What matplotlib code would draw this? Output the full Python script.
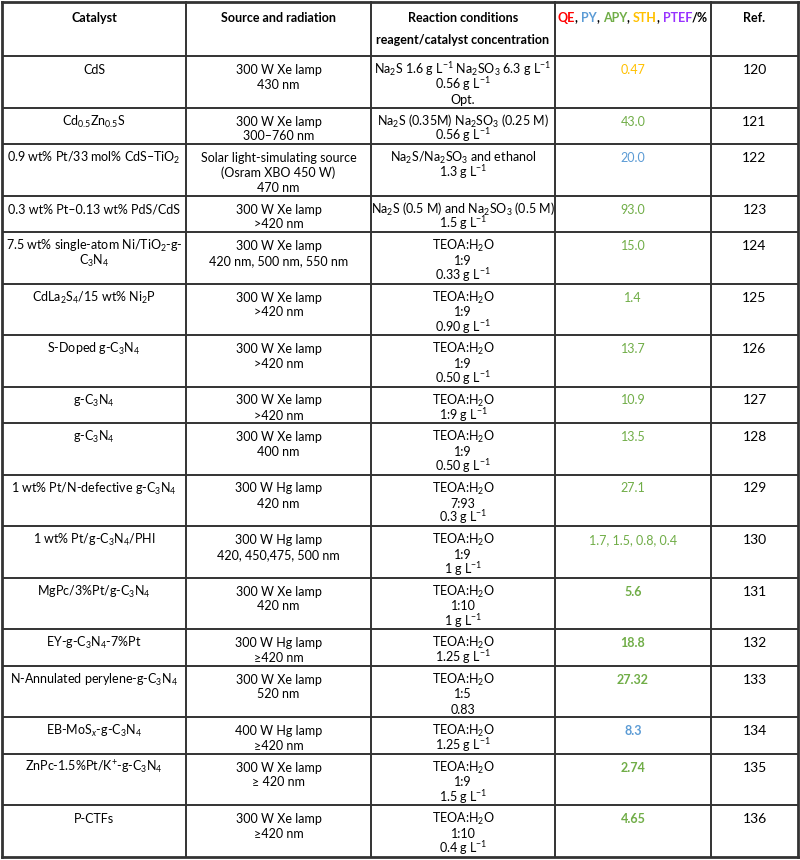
import matplotlib
matplotlib.use('Agg')
import matplotlib.pyplot as plt

plt.rcParams['font.family'] = ['Lato', 'DejaVu Sans']
plt.rcParams['mathtext.fontset'] = 'custom'
plt.rcParams['mathtext.rm'] = 'Lato'
plt.rcParams['mathtext.it'] = 'Lato:italic'
plt.rcParams['mathtext.bf'] = 'Lato:bold'
plt.rcParams['mathtext.default'] = 'regular'

# ---- table data ----
catalysts = [
    ["CdS"],
    ["Cd$_{0.5}$Zn$_{0.5}$S"],
    ["0.9 wt% Pt/33 mol% CdS–TiO$_2$"],
    ["0.3 wt% Pt–0.13 wt% PdS/CdS"],
    ["7.5 wt% single-atom Ni/TiO$_2$-g-", "C$_3$N$_4$"],
    ["CdLa$_2$S$_4$/15 wt% Ni$_2$P"],
    ["S-Doped g-C$_3$N$_4$"],
    ["g-C$_3$N$_4$"],
    ["g-C$_3$N$_4$"],
    ["1 wt% Pt/N-defective g-C$_3$N$_4$"],
    ["1 wt% Pt/g-C$_3$N$_4$/PHI"],
    ["MgPc/3%Pt/g-C$_3$N$_4$"],
    ["EY-g-C$_3$N$_4$-7%Pt"],
    ["N-Annulated perylene-g-C$_3$N$_4$"],
    ["EB-MoS$_{\\mathit{x}}$-g-C$_3$N$_4$"],
    ["ZnPc-1.5%Pt/K$^{+}$-g-C$_3$N$_4$"],
    ["P-CTFs"],
]
sources = [
    ["300 W Xe lamp", "430 nm"],
    ["300 W Xe lamp", "300–760 nm"],
    ["Solar light-simulating source", "(Osram XBO 450 W)", "470 nm"],
    ["300 W Xe lamp", ">420 nm"],
    ["300 W Xe lamp", "420 nm, 500 nm, 550 nm"],
    ["300 W Xe lamp", ">420 nm"],
    ["300 W Xe lamp", ">420 nm"],
    ["300 W Xe lamp", ">420 nm"],
    ["300 W Xe lamp", "400 nm"],
    ["300 W Hg lamp", "420 nm"],
    ["300 W Hg lamp", "420, 450,475, 500 nm"],
    ["300 W Xe lamp", "420 nm"],
    ["300 W Hg lamp", "≥420 nm"],
    ["300 W Xe lamp", "520 nm"],
    ["400 W Hg lamp", "≥420 nm"],
    ["300 W Xe lamp", "≥ 420 nm"],
    ["300 W Xe lamp", "≥420 nm"],
]
conditions = [
    ["Na$_2$S 1.6 g L$^{-1}$ Na$_2$SO$_3$ 6.3 g L$^{-1}$", "0.56 g L$^{-1}$", "Opt."],
    ["Na$_2$S (0.35M) Na$_2$SO$_3$ (0.25 M)", "0.56 g L$^{-1}$"],
    ["Na$_2$S/Na$_2$SO$_3$ and ethanol", "1.3 g L$^{-1}$"],
    ["Na$_2$S (0.5 M) and Na$_2$SO$_3$ (0.5 M)", "1.5 g L$^{-1}$"],
    ["TEOA:H$_2$O", "1:9", "0.33 g L$^{-1}$"],
    ["TEOA:H$_2$O", "1:9", "0.90 g L$^{-1}$"],
    ["TEOA:H$_2$O", "1:9", "0.50 g L$^{-1}$"],
    ["TEOA:H$_2$O", "1:9 g L$^{-1}$"],
    ["TEOA:H$_2$O", "1:9", "0.50 g L$^{-1}$"],
    ["TEOA:H$_2$O", "7:93", "0.3 g L$^{-1}$"],
    ["TEOA:H$_2$O", "1:9", "1 g L$^{-1}$"],
    ["TEOA:H$_2$O", "1:10", "1 g L$^{-1}$"],
    ["TEOA:H$_2$O", "1.25 g L$^{-1}$"],
    ["TEOA:H$_2$O", "1:5", "0.83"],
    ["TEOA:H$_2$O", "1.25 g L$^{-1}$"],
    ["TEOA:H$_2$O", "1:9", "1.5 g L$^{-1}$"],
    ["TEOA:H$_2$O", "1:10", "0.4 g L$^{-1}$"],
]
values = ["0.47", "43.0", "20.0", "93.0", "15.0", "1.4", "13.7", "10.9", "13.5",
          "27.1", "1.7, 1.5, 0.8, 0.4", "5.6", "18.8", "27.32", "8.3", "2.74", "4.65"]
value_kind = ["STH", "APY", "PY", "APY", "APY", "APY", "APY", "APY", "APY",
              "APY", "APY", "APY", "APY", "APY", "PY", "APY", "APY"]
value_bold = [False] * 11 + [True] * 6
refs = [str(r) for r in range(120, 137)]

kind_colors = {"QE": "#ff0000", "PY": "#5b9bd5", "APY": "#70ad47",
               "STH": "#ffc000", "PTEF": "#9933ff"}
header_pieces = [("QE", "QE"), (", ", None), ("PY", "PY"), (", ", None),
                 ("APY", "APY"), (", ", None), ("STH", "STH"), (", ", None),
                 ("PTEF", "PTEF"), ("/%", None)]

# ---- layout ----
col_x = [2, 186, 371, 555, 711, 798]
top, header_h = 2, 54
line_h, pad = 15.0, 6.5
fs = 9.0

fig = plt.figure(figsize=(8, 8.6), dpi=100)
ax = fig.add_axes([0, 0, 1, 1])
ax.set_xlim(0, 800)
ax.set_ylim(860, 0)
ax.axis('off')

row_tops = [top + header_h]
for i in range(len(catalysts)):
    n = max(len(catalysts[i]), len(sources[i]), len(conditions[i]))
    row_tops.append(row_tops[-1] + pad + line_h * n)
bottom = row_tops[-1]

lc = '#333333'
for y in row_tops[:-1]:
    ax.plot([col_x[0], col_x[-1]], [y, y], color=lc, lw=1.4, solid_capstyle='butt')
for y in (top, bottom):
    ax.plot([col_x[0], col_x[-1]], [y, y], color=lc, lw=2.0, solid_capstyle='projecting')
for j, x in enumerate(col_x):
    ax.plot([x, x], [top, bottom], color=lc, lw=2.0 if j in (0, len(col_x) - 1) else 1.4,
            solid_capstyle='projecting')

centers = [(col_x[k] + col_x[k + 1]) / 2 for k in range(5)]

# header
hb = top + 20
for k, label in [(0, "Catalyst"), (1, "Source and radiation"), (2, "Reaction conditions"), (4, "Ref.")]:
    ax.text(centers[k], hb, label, ha='center', va='baseline', fontsize=fs, fontweight='bold')
ax.text(centers[2], hb + 22, "reagent/catalyst concentration", ha='center', va='baseline',
        fontsize=fs, fontweight='bold')

renderer = fig.canvas.get_renderer()


def text_width(s):
    t = ax.text(0, 0, s + "|", fontsize=fs, fontweight='bold')
    bar = ax.text(0, 0, "|", fontsize=fs, fontweight='bold')
    w = t.get_window_extent(renderer).width - bar.get_window_extent(renderer).width
    t.remove()
    bar.remove()
    return w


full = "".join(p for p, _ in header_pieces)
x0 = centers[3] - text_width(full) / 2
prefix = ""
for txt, kind in header_pieces:
    ax.text(x0 + text_width(prefix) if prefix else x0, hb, txt, ha='left', va='baseline',
            fontsize=fs, fontweight='bold', color=kind_colors[kind] if kind else 'black')
    prefix += txt

# body
for i in range(len(catalysts)):
    yb = row_tops[i] + 18
    for k, lines in enumerate([catalysts[i], sources[i], conditions[i]]):
        for m, s in enumerate(lines):
            ax.text(centers[k], yb + m * line_h, s, ha='center', va='baseline', fontsize=fs)
    ax.text(centers[3], yb, values[i], ha='center', va='baseline', fontsize=fs,
            color=kind_colors[value_kind[i]],
            fontweight='bold' if value_bold[i] else 'normal')
    ax.text(centers[4], yb, refs[i], ha='center', va='baseline', fontsize=fs + 1)

fig.savefig('out.png', dpi=100)
